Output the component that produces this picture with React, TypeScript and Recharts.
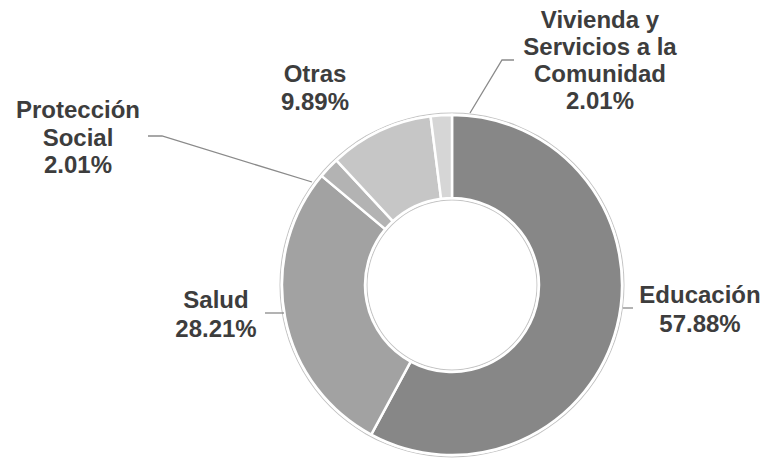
import React from 'react';
import { PieChart, Pie, Cell } from 'recharts';

const categories = ['Educación', 'Salud', 'Protección Social', 'Otras', 'Vivienda y Servicios a la Comunidad'];
const shares = [57.88, 28.21, 2.01, 9.89, 2.01];
const labelLines = [
  ['Educación', '57.88%'],
  ['Salud', '28.21%'],
  ['Protección', 'Social', '2.01%'],
  ['Otras', '9.89%'],
  ['Vivienda y', 'Servicios a la', 'Comunidad', '2.01%'],
];

const colors = ['#878787', '#a2a2a2', '#b3b3b3', '#c6c6c6', '#d6d6d6'];

const W = 765;
const H = 459;
const CX = 452;
const CY = 285;
const R_OUT = 170;
const R_IN = 87;

// label layout: text center x, first baseline, line step, leader polyline
const layout = [
  { x: 700, y: 303, step: 29, line: [[623, 308], [633, 308]] },
  { x: 216, y: 308, step: 29, line: [[265, 313], [284, 313]] },
  { x: 78, y: 118, step: 27.5, line: [[148, 136], [162, 136], [312, 182]] },
  { x: 315, y: 82, step: 28, line: null },
  { x: 600, y: 28, step: 27, line: [[514, 60], [502, 60], [470, 113]] },
];

const data = categories.map((name, i) => ({ name, value: shares[i], lines: labelLines[i] }));
const ring = [{ name: 'ring', value: 1 }];

const renderLabel = (props: any) => {
  const i = props.index;
  const l = layout[i];
  const lines = data[i].lines;
  return (
    <g key={`lbl-${i}`}>
      {l.line && (
        <polyline
          points={l.line.map((p) => p.join(',')).join(' ')}
          fill="none"
          stroke="#8a8a8a"
          strokeWidth={1.3}
        />
      )}
      <text
        x={l.x}
        y={l.y}
        textAnchor="middle"
        fontFamily="'Liberation Sans', Arial, sans-serif"
        fontWeight="bold"
        fontSize={24}
        fill="#3d3d3d"
      >
        {lines.map((t, k) => (
          <tspan key={k} x={l.x} y={l.y + k * l.step}>
            {t}
          </tspan>
        ))}
      </text>
    </g>
  );
};

export default function App() {
  return (
    <div style={{ position: 'absolute', left: 0, top: 0, width: W, height: H, background: '#fff' }}>
      <PieChart width={W} height={H} margin={{ top: 0, right: 0, bottom: 0, left: 0 }}>
        <Pie
          data={ring}
          dataKey="value"
          cx={CX}
          cy={CY}
          innerRadius={R_OUT + 1.5}
          outerRadius={R_OUT + 2.5}
          startAngle={90}
          endAngle={-270}
          fill="#c4c4c4"
          stroke="none"
          isAnimationActive={false}
        />
        <Pie
          data={ring}
          dataKey="value"
          cx={CX}
          cy={CY}
          innerRadius={R_IN - 2.5}
          outerRadius={R_IN - 1.5}
          startAngle={90}
          endAngle={-270}
          fill="#c4c4c4"
          stroke="none"
          isAnimationActive={false}
        />
        <Pie
          data={data}
          dataKey="value"
          nameKey="name"
          cx={CX}
          cy={CY}
          innerRadius={R_IN}
          outerRadius={R_OUT}
          startAngle={90}
          endAngle={-270}
          stroke="#ffffff"
          strokeWidth={2.5}
          label={renderLabel}
          labelLine={false}
          isAnimationActive={false}
        >
          {data.map((d, i) => (
            <Cell key={d.name} fill={colors[i]} />
          ))}
        </Pie>
      </PieChart>
    </div>
  );
}
